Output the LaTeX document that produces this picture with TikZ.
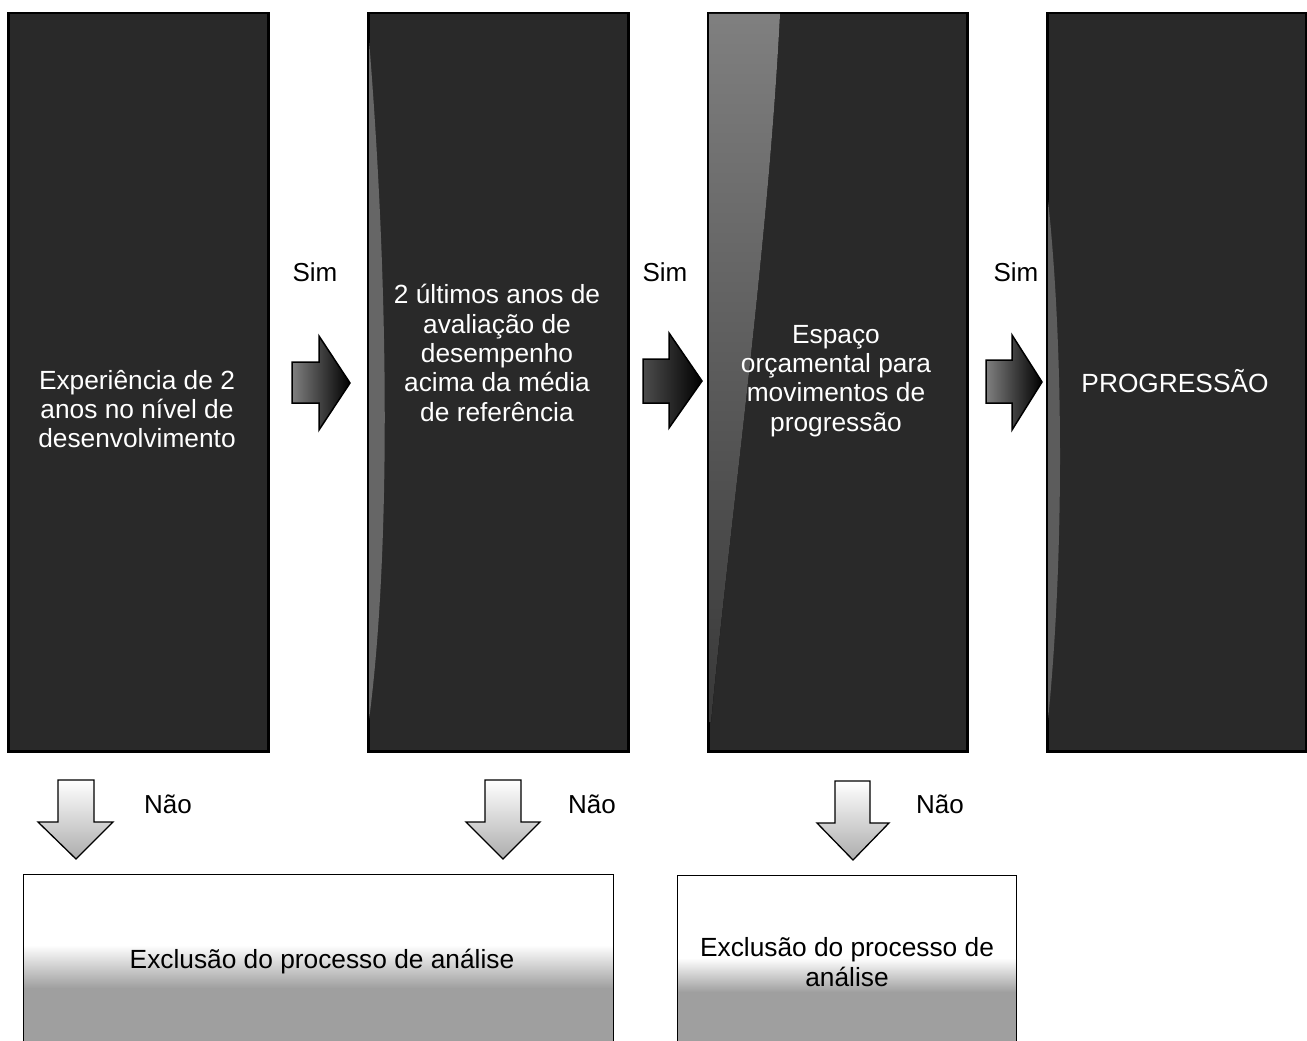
\documentclass[tikz,border=0pt]{standalone}
\usepackage{fontspec}
\setmainfont{Liberation Sans}
\begin{document}
\begin{tikzpicture}[x=1pt,y=-1pt,
  bigbox/.style={draw=black, line width=2.5pt, fill=black!84, inner sep=0pt},
  boxtext/.style={text=white, align=center, inner sep=0pt, font=\fontsize{26.3}{29.3}\selectfont},
  lbl/.style={text=black, inner sep=0pt, font=\fontsize{26}{29}\selectfont},
  rarrow/.style={draw=black, line width=1.5pt, line join=miter, left color=gray, right color=black},
  rarrowdark/.style={draw=black, line width=1.5pt, line join=miter, left color=black!70, right color=black},
  darrow/.style={draw=black, line width=1.3pt, line join=miter, top color=white, middle color=white, bottom color=gray!65},
  exclbox/.style={draw=black, line width=1.2pt, inner sep=0pt, anchor=north west},
  excltext/.style={text=black, align=center, inner sep=0pt, font=\fontsize{26.3}{29.5}\selectfont},
]
\useasboundingbox (0,0) rectangle (1307,1041);
\clip (0,0) rectangle (1307,1041);
\fill[white] (0,0) rectangle (1307,1041);

% ---- big dark boxes
\node[bigbox, minimum width=260pt, minimum height=738pt, anchor=north west] (b1) at (7,12) {};
\node[bigbox, minimum width=260pt, minimum height=738pt, anchor=north west] (b2) at (367,12) {};
\node[bigbox, minimum width=259pt, minimum height=738pt, anchor=north west] (b3) at (707,12) {};
\node[bigbox, minimum width=259pt, minimum height=738pt, anchor=north west] (b4) at (1046,12) {};

% lighter decorative bands
\fill[black!60] (369,40) .. controls (390,300) and (390,560) .. (369,720) -- cycle;
\fill[top color=black!50, bottom color=black!78] (709,14) -- (780,14) .. controls (768,250) and (730,520) .. (711,722) -- (709,722) -- cycle;
\fill[black!64] (1048,200) .. controls (1064,350) and (1064,560) .. (1048,720) -- cycle;

% ---- box texts
\node[boxtext] (t1) at (137,409) {Experiência de 2\\anos no nível de\\desenvolvimento};
\node[boxtext] (t2) at (497,353) {2 últimos anos de\\avaliação de\\desempenho\\acima da média\\de referência};
\node[boxtext] (t3) at (836,381) {Espaço\\orçamental para\\movimentos de\\progressão};
\node[boxtext] (t4) at (1175,381) {PROGRESSÃO};

% ---- Sim labels
\node[lbl] (s1) at (315,272) {Sim};
\node[lbl] (s2) at (665,272) {Sim};
\node[lbl] (s3) at (1016,272) {Sim};

% ---- right arrows
\draw[rarrow] (292,362) -- (319,362) -- (319,336) -- (350,383) -- (319,430) -- (319,403) -- (292,403) -- cycle;
\draw[rarrowdark] (643,359) -- (669,359) -- (669,333) -- (702,381) -- (669,428) -- (669,403) -- (643,403) -- cycle;
\draw[rarrow] (986,360) -- (1012,360) -- (1012,335) -- (1042,382) -- (1012,430) -- (1012,403) -- (986,403) -- cycle;

% ---- down arrows
\draw[darrow] (58,780) -- (94,780) -- (94,822) -- (113,822) -- (76,859) -- (38,822) -- (58,822) -- cycle;
\draw[darrow] (485,780) -- (521,780) -- (521,822) -- (540,822) -- (503,859) -- (466,822) -- (485,822) -- cycle;
\draw[darrow] (835,781) -- (870,781) -- (870,823) -- (889,823) -- (853,860) -- (817,823) -- (835,823) -- cycle;

% ---- Nao labels
\node[lbl] (n1) at (168,804) {Não};
\node[lbl] (n2) at (592,804) {Não};
\node[lbl] (n3) at (940,804) {Não};

% ---- exclusion boxes
\fill[top color=white, bottom color=gray!75] (23,945) rectangle (613,988);
\fill[gray!75] (23,988) rectangle (613,1050);
\fill[top color=white, bottom color=gray!75] (677,958) rectangle (1016,992);
\fill[gray!75] (677,992) rectangle (1016,1050);
\node[exclbox, minimum width=590pt, minimum height=190pt] (e1) at (23,874) {};
\node[exclbox, minimum width=339pt, minimum height=190pt] (e2) at (677,875) {};
\node[excltext] (x1) at (322,962) {Exclusão do processo de análise};
\node[excltext] (x2) at (847,962) {Exclusão do processo de\\análise};
\end{tikzpicture}
\end{document}
